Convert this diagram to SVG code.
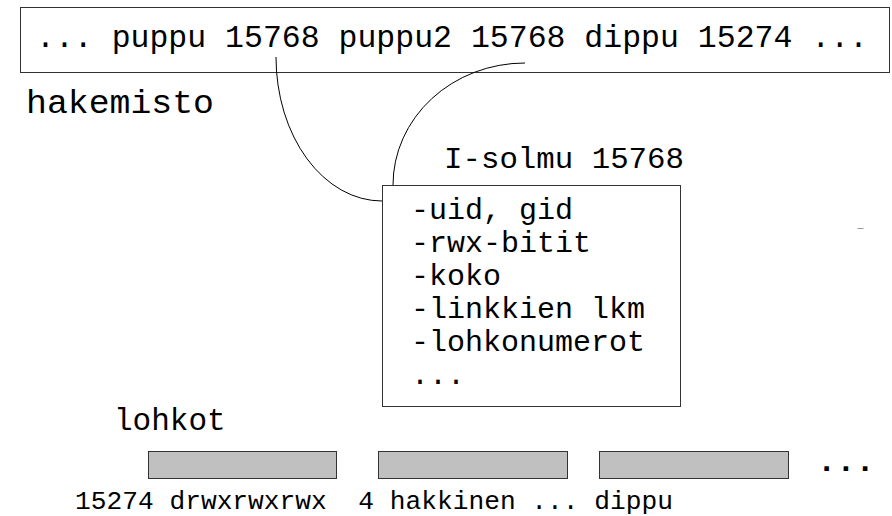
<svg xmlns="http://www.w3.org/2000/svg" width="892" height="516" viewBox="0 0 892 516">
  <style>
    .mono { font-family: "Nimbus Mono PS", "Courier New", "Liberation Mono", monospace; fill: #000; }
    .frame { fill: #fff; stroke: #333; stroke-width: 1; }
    .block { fill: #c0c0c0; stroke: #333; stroke-width: 1; }
    .link { fill: none; stroke: #000; stroke-width: 1; }
  </style>
  <rect width="892" height="516" fill="#fff"/>

  <!-- directory entries -->
  <g id="hakemisto">
    <rect class="frame" x="20.5" y="7.5" width="869" height="65"/>
    <text class="mono" x="36" y="47" font-size="32" textLength="832" lengthAdjust="spacingAndGlyphs">... puppu 15768 puppu2 15768 dippu 15274 ...</text>
    <text class="mono" x="26" y="113" font-size="34" textLength="188" lengthAdjust="spacingAndGlyphs">hakemisto</text>
  </g>

  <!-- connectors from the directory entries to the inode -->
  <g id="links">
    <path class="link" d="M276,57 A106,144 0 0 0 382,201"/>
    <path class="link" d="M393,185 A132,122 0 0 1 525,63"/>
  </g>

  <!-- inode -->
  <g id="isolmu">
    <text class="mono" x="444" y="168" font-size="30" textLength="240" lengthAdjust="spacingAndGlyphs">I-solmu 15768</text>
    <rect class="frame" x="382.5" y="185.5" width="298" height="221"/>
    <text class="mono" font-size="30">
      <tspan x="411" y="219">-uid, gid</tspan>
      <tspan x="411" y="252">-rwx-bitit</tspan>
      <tspan x="411" y="285">-koko</tspan>
      <tspan x="411" y="318">-linkkien lkm</tspan>
      <tspan x="411" y="351">-lohkonumerot</tspan>
      <tspan x="411" y="384">...</tspan>
    </text>
  </g>

  <!-- data blocks -->
  <g id="lohkot">
    <text class="mono" x="114" y="430" font-size="31">lohkot</text>
    <rect class="block" x="148.5" y="451.5" width="188" height="27"/>
    <rect class="block" x="378.5" y="451.5" width="189" height="27"/>
    <rect class="block" x="599.5" y="451.5" width="189" height="27"/>
    <text class="mono" x="817" y="470.5" font-size="32" font-weight="bold">...</text>
    <text class="mono" x="75" y="509" font-size="26" textLength="598" lengthAdjust="spacingAndGlyphs" xml:space="preserve">15274 drwxrwxrwx  4 hakkinen ... dippu</text>
  </g>

  <line x1="857.5" y1="228.5" x2="863.5" y2="228.5" stroke="#999" stroke-width="1"/>
</svg>
